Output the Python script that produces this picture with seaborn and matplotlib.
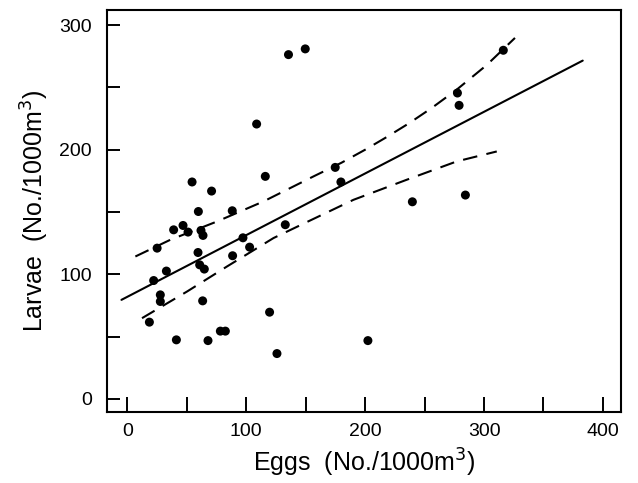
import numpy as np
import pandas as pd
import matplotlib
matplotlib.use("Agg")
import matplotlib.pyplot as plt
from matplotlib.ticker import MultipleLocator
import seaborn as sns

# data
eggs = [135.5, 149.6, 108.7, 54.4, 70.8, 116.0, 174.8, 179.6, 59.7, 88.2,
        46.8, 38.9, 51.0, 61.9, 63.6, 132.8, 97.2, 25.0, 102.8, 59.4,
        88.5, 32.8, 22.1, 60.8, 64.7, 27.7, 27.7, 63.3, 18.5, 119.6,
        41.2, 67.8, 78.2, 82.4, 125.8, 202.3, 316.2, 277.6, 279.0, 239.7,
        284.3]
larvae = [276.3, 280.9, 220.6, 174.1, 166.8, 178.6, 185.8, 174.1, 150.4, 151.0,
          139.2, 135.7, 133.9, 135.2, 131.2, 139.8, 129.3, 121.0, 121.8, 117.5,
          114.9, 102.6, 95.0, 107.6, 104.2, 83.5, 78.2, 78.7, 61.6, 69.6,
          47.4, 46.8, 54.4, 54.4, 36.4, 46.8, 279.8, 245.5, 235.6, 158.2,
          163.6]

# regression line and confidence limits
fit_x = [-5, 383]
fit_y = [79.5, 271.5]
upper_x = [6.7, 36.1, 75.4, 114.5, 156.6, 180.0, 200.0, 218.2, 237.2, 256.0, 277.0, 302.3, 326.0]
upper_y = [114.3, 127.7, 142.4, 158.5, 178.6, 189.5, 200.0, 210.2, 221.4, 233.5, 248.2, 268.0, 289.7]
lower_x = [12.3, 50.2, 83.8, 122.9, 150.0, 190.2, 235.0, 277.0, 310.7]
lower_y = [64.8, 86.2, 106.3, 129.1, 141.5, 159.8, 175.9, 190.6, 198.6]

df = pd.DataFrame({"eggs": eggs, "larvae": larvae})

sns.set_style("ticks")
plt.rcParams["font.family"] = ["Liberation Sans", "DejaVu Sans"]

fig = plt.figure(figsize=(6.38, 4.83), dpi=100)
ax = fig.add_axes([0.168, 0.147, 0.805, 0.832])

sns.scatterplot(data=df, x="eggs", y="larvae", color="black", s=42,
                edgecolor="none", ax=ax, zorder=3)
sns.lineplot(x=fit_x, y=fit_y, color="black", lw=1.5, ax=ax,
             estimator=None, sort=False)
sns.lineplot(x=upper_x, y=upper_y, color="black", lw=1.5, ax=ax,
             estimator=None, sort=False, linestyle=(0, (7, 4.5)))
sns.lineplot(x=lower_x, y=lower_y, color="black", lw=1.5, ax=ax,
             estimator=None, sort=False, linestyle=(0, (7, 4.5)))

ax.set_xlim(-17, 415)
ax.set_ylim(-10.5, 312)
ax.xaxis.set_major_locator(MultipleLocator(100))
ax.xaxis.set_minor_locator(MultipleLocator(50))
ax.yaxis.set_major_locator(MultipleLocator(100))
ax.yaxis.set_minor_locator(MultipleLocator(50))
ax.tick_params(which="both", direction="in", width=1.4, color="black",
               labelcolor="black")
ax.tick_params(axis="x", which="both", length=11)
ax.tick_params(axis="y", which="both", length=9.5)
ax.tick_params(axis="x", which="major", pad=8, labelsize=14)
ax.tick_params(axis="y", which="major", pad=11, labelsize=14)

for sp in ax.spines.values():
    sp.set_visible(True)
    sp.set_linewidth(1.5)
    sp.set_color("black")

ax.set_xlabel("Eggs  (No./1000m$^3$)", fontsize=18, labelpad=5, color="black")
ax.set_ylabel("Larvae  (No./1000m$^3$)", fontsize=18, labelpad=6, color="black")

fig.savefig("out.png", dpi=100)
